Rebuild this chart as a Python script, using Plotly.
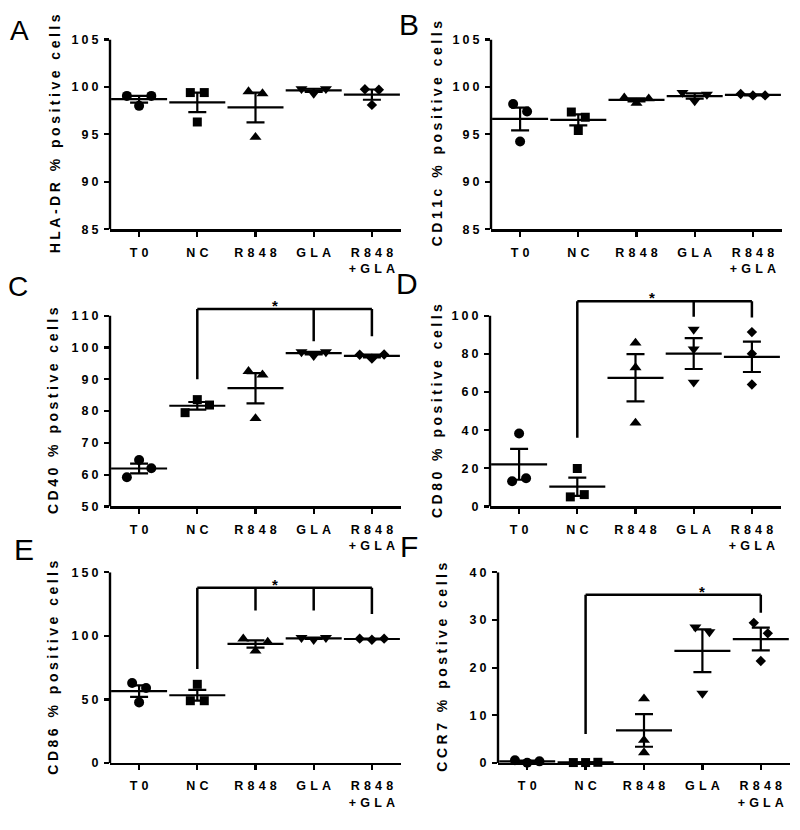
import numpy as np
import plotly.graph_objects as go

# ---------------- data ----------------
GROUPS = ["T0", "NC", "R848", "GLA", "R848+GLA"]
GROUP_LABELS = ["T0", "NC", "R848", "GLA", "R848\n+GLA"]

HLA_DR_VALUES = [[99.05, 98.0, 99.05], [99.4, 96.3, 99.4], [99.5, 94.7, 99.3],
                 [99.8, 99.3, 99.8], [99.75, 98.1, 99.7]]
CD11C_VALUES = [[98.2, 94.25, 97.4], [97.35, 95.4, 96.8], [98.85, 98.3, 98.75],
                [99.4, 98.5, 99.2], [99.25, 99.1, 99.1]]
CD40_VALUES = [[59.2, 64.6, 62.0], [79.5, 83.6, 81.9], [92.5, 77.7, 91.4],
               [98.6, 97.4, 98.6], [97.7, 96.5, 97.8]]
CD80_VALUES = [[13.2, 38.2, 14.8], [5.0, 19.9, 6.2], [85.7, 72.8, 43.8],
               [92.8, 82.5, 65.1], [91.4, 80.1, 63.9]]
CD86_VALUES = [[62.9, 47.7, 59.0], [49.0, 61.9, 49.0], [97.7, 88.2, 95.1],
               [98.6, 97.0, 98.6], [97.8, 97.0, 97.8]]
CCR7_VALUES = [[0.6, 0.05, 0.35], [0.1, 0.1, 0.15], [13.5, 4.8, 2.2],
               [28.5, 14.6, 27.5], [29.4, 21.4, 27.2]]

HLA_DR_TICKS = [85, 90, 95, 100, 105]
CD11C_TICKS = [85, 90, 95, 100, 105]
CD40_TICKS = [50, 60, 70, 80, 90, 100, 110]
CD80_TICKS = [0, 20, 40, 60, 80, 100]
CD86_TICKS = [0, 50, 100, 150]
CCR7_TICKS = [0, 10, 20, 30, 40]

# significance brackets: (bar level, [(group, leg bottom), ...])
CD40_SIG = (112.1, [("NC", 90), ("GLA", 102), ("R848+GLA", 103.5)])
CD80_SIG = (107.6, [("NC", 36), ("GLA", 99.5), ("R848+GLA", 99)])
CD86_SIG = (137.9, [("NC", 74), ("R848", 119.9), ("GLA", 119.9), ("R848+GLA", 117.3)])
CCR7_SIG = (35.3, [("NC", 6.1), ("R848+GLA", 31.5)])

SYMBOLS = ["circle", "square", "triangle-up", "triangle-down", "diamond"]
SIZES = [10, 9, 10.5, 10.5, 8]

W, H = 800, 830

# layout boxes in pixels: x0, x1, y_top_tick, y_bottom
PANELS = [
    dict(letter="A", lsize=28, lpos=(19, 24), title="HLA-DR % positive cells", tx=55,
         vals=HLA_DR_VALUES, ticks=HLA_DR_TICKS, box=(110, 401, 33, 226), yext=None, sig=None),
    dict(letter="B", lsize=30, lpos=(409, 18), title="CD11c % positive cells", tx=437,
         vals=CD11C_VALUES, ticks=CD11C_TICKS, box=(491, 782, 33, 226), yext=None, sig=None),
    dict(letter="C", lsize=28, lpos=(18, 284), title="CD40 % postive cells", tx=53,
         vals=CD40_VALUES, ticks=CD40_TICKS, box=(110, 401, 314, 508), yext=115.5,
         sig=CD40_SIG, star_x=2.33),
    dict(letter="D", lsize=30, lpos=(407, 281), title="CD80 % positive cells", tx=437,
         vals=CD80_VALUES, ticks=CD80_TICKS, box=(490, 781, 314, 508), yext=112,
         sig=CD80_SIG, star_x=2.29),
    dict(letter="E", lsize=30, lpos=(24, 552), title="CD86 % positive cells", tx=53,
         vals=CD86_VALUES, ticks=CD86_TICKS, box=(110, 401, 575, 769), yext=None,
         sig=CD86_SIG, star_x=2.34),
    dict(letter="F", lsize=30, lpos=(409, 549), title="CCR7 % postive cells", tx=442,
         vals=CCR7_VALUES, ticks=CCR7_TICKS, box=(498, 790, 575, 769), yext=None,
         sig=CCR7_SIG, star_x=3.0),
]

SP_TICK = "\u2005"
SP_CAT = "\u2004"
SP_TITLE = "\u2005"
LW = 2.2


def spaced(s, sp):
    return "<br>".join(sp.join(list(line)) for line in s.split("\n"))


def spread(vals, thr):
    n = len(vals)
    parent = list(range(n))

    def find(i):
        while parent[i] != i:
            i = parent[i]
        return i
    for i in range(n):
        for j in range(i + 1, n):
            if abs(vals[i] - vals[j]) < thr:
                parent[find(j)] = find(i)
    clusters = {}
    for i in range(n):
        clusters.setdefault(find(i), []).append(i)
    pattern = {1: [0.0], 2: [-0.12, 0.12], 3: [-0.21, 0.0, 0.21]}
    offs = [0.0] * n
    for members in clusters.values():
        for k, m in enumerate(members):
            offs[m] = pattern[len(members)][k]
    return offs


fig = go.Figure()
shapes, annotations = [], []
FONT = "Liberation Sans"

for pi, p in enumerate(PANELS, start=1):
    suf = "" if pi == 1 else str(pi)
    xa, ya = "x" + suf, "y" + suf
    x0, x1, yt, yb = p["box"]
    lo, hi = p["ticks"][0], p["ticks"][-1]
    ppu = (yb - yt) / (hi - lo)
    top = hi if p["yext"] is None else p["yext"]
    ytop_px = yt - (top - hi) * ppu
    thr = 0.062 * (hi - lo)

    for gi, vals in enumerate(p["vals"]):
        offs = spread(vals, thr)
        fig.add_trace(go.Scatter(
            x=[gi + o for o in offs], y=vals, mode="markers", xaxis=xa, yaxis=ya,
            marker=dict(symbol=SYMBOLS[gi], size=SIZES[gi], color="black"),
            cliponaxis=False, hoverinfo="skip"))
        arr = np.array(vals, dtype=float)
        mean = arr.mean()
        sem = arr.std(ddof=1) / np.sqrt(len(arr))
        fig.add_trace(go.Scatter(
            x=[gi], y=[mean], mode="markers", xaxis=xa, yaxis=ya,
            marker=dict(symbol="line-ew", size=40, color="black",
                        line=dict(color="black", width=LW)),
            error_y=dict(type="data", array=[sem], color="black", thickness=LW, width=9),
            cliponaxis=False, hoverinfo="skip"))

    if p["sig"] is not None:
        level, legs = p["sig"]
        xs, ys = [], []
        gx = [GROUPS.index(g) for g, _ in legs]
        xs += [gx[0], gx[-1], None]
        ys += [level, level, None]
        for (g, bottom) in legs:
            xs += [GROUPS.index(g), GROUPS.index(g), None]
            ys += [level, bottom, None]
        fig.add_trace(go.Scatter(x=xs, y=ys, mode="lines", xaxis=xa, yaxis=ya,
                                 line=dict(color="black", width=2.5), hoverinfo="skip"))
        annotations.append(dict(x=p["star_x"], y=level, xref=xa, yref=ya, text="*",
                                showarrow=False, yanchor="bottom", yshift=-7,
                                font=dict(family=FONT, size=15, color="black", weight="bold")))

    # y axis line up to top tick
    shapes.append(dict(type="line", xref=f"{xa} domain", x0=0, x1=0, yref=ya, y0=lo, y1=hi,
                       line=dict(color="black", width=2.4)))

    fig.layout["xaxis" + suf] = dict(
        domain=[x0 / W, x1 / W], anchor=ya, range=[-0.5, 4.5],
        tickvals=list(range(len(GROUPS))), ticktext=[spaced(g, SP_CAT) for g in GROUP_LABELS],
        ticks="outside", ticklen=5, tickwidth=2.2, tickcolor="black",
        showline=True, linewidth=2.4, linecolor="black", showgrid=False, zeroline=False,
        tickfont=dict(family=FONT, size=12.5, color="black", weight="bold"),
        ticklabelstandoff=5, layer="below traces", fixedrange=True)
    fig.layout["yaxis" + suf] = dict(
        domain=[1 - yb / H, 1 - ytop_px / H], anchor=xa, range=[lo, top],
        tickvals=p["ticks"], ticktext=[spaced(str(t), SP_TICK) for t in p["ticks"]],
        ticks="outside", ticklen=5, tickwidth=2.2, tickcolor="black",
        showline=False, showgrid=False, zeroline=False,
        tickfont=dict(family=FONT, size=12.5, color="black", weight="bold"),
        ticklabelstandoff=3, layer="below traces", fixedrange=True)

    annotations.append(dict(x=p["tx"] / W, y=1 - (yt + yb) / 2 / H, xref="paper", yref="paper",
                            text=spaced(p["title"], SP_TITLE), textangle=-90, showarrow=False,
                            xanchor="center", yanchor="middle",
                            font=dict(family=FONT, size=14, color="black", weight="bold")))
    lx, ly = p["lpos"]
    annotations.append(dict(x=lx / W, y=1 - ly / H, xref="paper", yref="paper", text=p["letter"],
                            showarrow=False, xanchor="center", yanchor="middle",
                            font=dict(family=FONT, size=p["lsize"], color="black")))

fig.update_layout(width=W, height=H, margin=dict(l=0, r=0, t=0, b=0),
                  paper_bgcolor="white", plot_bgcolor="white", showlegend=False,
                  hovermode=False, shapes=shapes, annotations=annotations)

fig.write_html("out.html", config={"displayModeBar": False, "staticPlot": True},
               post_script="document.body.style.margin='0';")
